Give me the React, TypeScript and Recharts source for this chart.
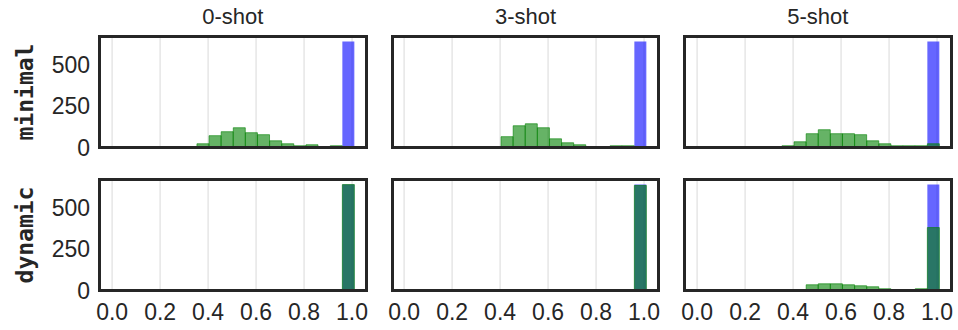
import { BarChart, Bar, XAxis, YAxis, CartesianGrid } from "recharts"

// histogram bins: 20 bins of width 0.0505 over [0, 1.01]
const binWidth = 0.0505
const shotTitles = ["0-shot", "3-shot", "5-shot"]
const promptRows = ["minimal", "dynamic"]
const xTicks = [0, 0.2, 0.4, 0.6, 0.8, 1.0]
const yTicks = [0, 250, 500]

// reference (blue) counts, same in every panel
const referenceBlue = [0, 0, 0, 0, 0, 0, 0, 0, 0, 0, 0, 0, 0, 0, 0, 0, 0, 0, 0, 641]

// model (green) counts per panel
const minimal0shot = [0, 0, 0, 0, 0, 0, 0, 22, 71, 95, 119, 89, 77, 40, 22, 10, 16, 2, 10, 3]
const minimal3shot = [0, 0, 0, 0, 0, 0, 0, 0, 65, 131, 143, 119, 52, 28, 16, 0, 0, 10, 10, 5]
const minimal5shot = [0, 0, 0, 0, 0, 0, 0, 10, 34, 83, 107, 83, 83, 77, 40, 22, 10, 10, 10, 22]
const dynamic0shot = [0, 0, 0, 0, 0, 0, 0, 0, 0, 0, 0, 0, 0, 0, 0, 0, 0, 0, 0, 640]
const dynamic3shot = [0, 0, 0, 0, 0, 0, 0, 0, 0, 0, 0, 0, 0, 0, 0, 0, 0, 0, 0, 635]
const dynamic5shot = [0, 0, 0, 0, 0, 0, 0, 0, 0, 34, 40, 40, 34, 28, 22, 10, 0, 2, 10, 380]

const panels = [
  [minimal0shot, minimal3shot, minimal5shot],
  [dynamic0shot, dynamic3shot, dynamic5shot],
]

const colLefts = [99.6, 392.2, 684.6]
const rowTops = [36.3, 179.3]
const plotW = 266.6
const plotH = 111.4
const ML = 90
const MT = 6
const MR = 6
const MB = 40

const tickFont = { fontSize: 23, fill: "#262626", fontFamily: "Liberation Sans, Arial, sans-serif" }

// one empty bin on each side gives the 5% axis margin
const buildBins = (green: number[], blue: number[]) => {
  const rows = [{ x: -binWidth / 2, green: 0, blue: 0 }]
  green.forEach((g, i) => rows.push({ x: (i + 0.5) * binWidth, green: g, blue: blue[i] }))
  rows.push({ x: 20 * binWidth + binWidth / 2, green: 0, blue: 0 })
  return rows
}

const Panel = ({ row, col, green }: { row: number; col: number; green: number[] }) => {
  const showY = col === 0
  const showX = row === 1
  const data = buildBins(green, referenceBlue)
  const left = colLefts[col]
  const top = rowTops[row]
  return (
    <>
      <div style={{ position: "absolute", left: left - ML, top: top - MT }}>
        <BarChart
          width={plotW + ML + MR}
          height={plotH + MT + MB}
          data={data}
          barCategoryGap={0}
          barGap={0}
          margin={{ top: MT, right: MR, left: showY ? 0 : ML, bottom: showX ? 0 : MB }}
        >
          <CartesianGrid xAxisId="num" vertical horizontal={false} stroke="#e6e6e6" strokeWidth={1.5} />
          <XAxis
            xAxisId="num"
            dataKey="x"
            type="number"
            domain={[-binWidth, 21 * binWidth]}
            allowDataOverflow
            ticks={xTicks}
            tickFormatter={(v: number) => v.toFixed(1)}
            tickLine={false}
            axisLine={false}
            tick={tickFont}
            tickMargin={7}
            height={MB}
            hide={!showX}
          />
          <XAxis xAxisId="blue" dataKey="x" type="category" orientation="top" height={0} hide />
          <XAxis xAxisId="green" dataKey="x" type="category" orientation="top" height={0} hide />
          <YAxis
            domain={[0, 674]}
            allowDataOverflow
            ticks={yTicks}
            tickLine={false}
            axisLine={false}
            tick={tickFont}
            tickMargin={4}
            width={ML}
            hide={!showY}
          />
          <Bar xAxisId="blue" dataKey="blue" fill="#0000ff" fillOpacity={0.6} isAnimationActive={false} />
          <Bar
            xAxisId="green"
            dataKey="green"
            fill="#008000"
            fillOpacity={0.6}
            stroke="#008000"
            strokeOpacity={0.6}
            strokeWidth={1}
            isAnimationActive={false}
          />
        </BarChart>
      </div>
      <div
        style={{
          position: "absolute",
          left: left - 1.5,
          top: top - 1.5,
          width: plotW + 3,
          height: plotH + 3,
          boxSizing: "border-box",
          border: "3px solid #262626",
          pointerEvents: "none",
        }}
      />
    </>
  )
}

export default function App() {
  return (
    <div style={{ position: "absolute", left: 0, top: 0, width: 958, height: 330, background: "#fff" }}>
      {shotTitles.map((t, c) => (
        <div
          key={t}
          style={{
            position: "absolute",
            left: colLefts[c],
            width: plotW,
            top: 4,
            textAlign: "center",
            fontFamily: "Liberation Sans, Arial, sans-serif",
            fontSize: 22,
            color: "#262626",
          }}
        >
          {t}
        </div>
      ))}
      {promptRows.map((label, r) => (
        <div
          key={label}
          style={{
            position: "absolute",
            left: 25,
            top: rowTops[r] + plotH / 2,
            transform: "translate(-50%, -50%) rotate(-90deg)",
            fontFamily: "DejaVu Sans Mono, monospace",
            fontWeight: "bold",
            fontSize: 23,
            color: "#262626",
            whiteSpace: "nowrap",
          }}
        >
          {label}
        </div>
      ))}
      {panels.map((rowPanels, r) =>
        rowPanels.map((green, c) => <Panel key={`${r}-${c}`} row={r} col={c} green={green} />)
      )}
    </div>
  )
}
